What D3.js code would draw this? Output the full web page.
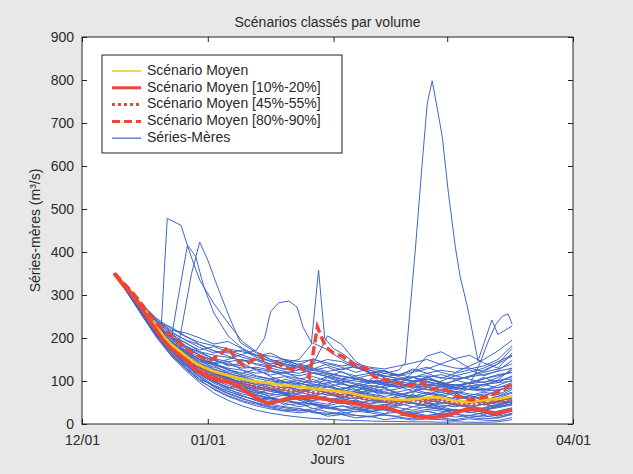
<!DOCTYPE html>
<html lang="fr">
  <head>
    <meta charset="UTF-8" />
    <title>Scénarios classés par volume</title>
    <script src="https://d3js.org/d3.v7.min.js"></script>
    <style>
      body {
        margin: 0;
        background: #e8e8e8;
      }
      svg {
        display: block;
        font-family: "Liberation Sans", Arial, sans-serif;
      }
      .axis text {
        font-size: 14px;
        fill: #2a2a2a;
      }
      .axis line {
        stroke: #222;
      }
      .axis .domain {
        display: none;
      }
      .blue {
        fill: none;
        stroke: #4066c6;
        stroke-width: 1;
      }
    </style>
  </head>
  <body>
    <svg width="633" height="474" id="chart"></svg>

    <script>
      // days counted from 12/01
      const gridDays = [8, 11.5, 15, 18.5, 22, 25.5, 29, 32.5, 36, 39.5, 43, 46.5, 50, 53.5, 57, 60.5, 64, 67.5, 71, 74.5, 78, 81.5, 85, 88.5, 92, 95.5, 99, 102.5, 106];

      // "Séries-Mères" read on gridDays
      const blueSeries = [
        [350, 314, 276, 245, 222, 203, 190, 182, 175, 168, 160, 158, 150, 145, 150, 142, 135, 140, 132, 128, 135, 142, 150, 138, 130, 128, 135, 150, 182],
        [350, 312, 272, 240, 215, 195, 178, 165, 172, 160, 150, 140, 146, 132, 140, 150, 145, 130, 125, 118, 112, 120, 128, 140, 152, 160, 142, 130, 165],
        [350, 310, 270, 236, 210, 188, 172, 180, 168, 155, 148, 135, 128, 140, 130, 122, 128, 135, 120, 110, 115, 108, 118, 125, 120, 135, 150, 170, 195],
        [350, 311, 268, 232, 205, 182, 165, 152, 145, 150, 138, 130, 122, 118, 125, 132, 120, 112, 118, 125, 110, 100, 108, 115, 105, 110, 125, 140, 158],
        [350, 309, 266, 230, 200, 178, 160, 148, 138, 130, 132, 125, 118, 112, 120, 115, 105, 110, 100, 95, 102, 110, 98, 92, 100, 112, 120, 128, 140],
        [350, 308, 264, 227, 196, 172, 155, 140, 130, 125, 118, 122, 112, 105, 110, 100, 96, 104, 98, 90, 85, 95, 105, 98, 88, 95, 105, 115, 120],
        [350, 308, 263, 225, 193, 168, 150, 140, 145, 125, 112, 105, 110, 100, 95, 102, 92, 88, 95, 100, 92, 84, 90, 96, 85, 80, 92, 100, 110],
        [350, 307, 262, 223, 190, 165, 146, 132, 122, 114, 106, 100, 96, 102, 92, 86, 94, 85, 80, 88, 95, 86, 80, 88, 92, 86, 78, 90, 102],
        [350, 306, 261, 221, 188, 162, 142, 128, 118, 108, 100, 95, 90, 84, 90, 96, 85, 78, 84, 76, 82, 90, 80, 74, 80, 88, 82, 76, 92],
        [350, 306, 260, 219, 185, 158, 138, 122, 112, 104, 96, 88, 84, 90, 82, 76, 82, 88, 76, 70, 75, 82, 72, 68, 76, 70, 66, 78, 88],
        [350, 305, 259, 217, 182, 155, 134, 118, 106, 98, 92, 84, 78, 74, 80, 72, 68, 75, 70, 64, 70, 62, 68, 74, 66, 60, 70, 64, 80],
        [350, 305, 258, 215, 180, 152, 130, 114, 102, 94, 86, 80, 74, 70, 85, 108, 96, 80, 66, 58, 62, 68, 60, 55, 62, 58, 52, 60, 72],
        [350, 304, 257, 214, 178, 150, 127, 110, 98, 90, 82, 76, 70, 64, 68, 60, 56, 62, 54, 58, 52, 56, 62, 50, 48, 55, 50, 46, 58],
        [350, 304, 256, 212, 176, 147, 124, 106, 94, 85, 78, 70, 66, 60, 55, 58, 52, 48, 54, 50, 44, 70, 110, 96, 72, 58, 44, 52, 50],
        [350, 303, 256, 211, 174, 145, 121, 102, 90, 80, 72, 66, 72, 55, 60, 54, 48, 54, 40, 46, 42, 50, 44, 40, 46, 42, 46, 40, 48],
        [350, 303, 255, 210, 172, 142, 118, 98, 85, 76, 68, 60, 55, 50, 46, 42, 70, 92, 80, 62, 48, 40, 38, 34, 30, 36, 32, 38, 44],
        [350, 302, 254, 208, 170, 140, 115, 95, 80, 70, 62, 55, 58, 45, 48, 38, 42, 38, 32, 36, 32, 28, 34, 30, 26, 32, 30, 28, 36],
        [350, 302, 253, 207, 168, 137, 112, 90, 76, 65, 56, 60, 44, 48, 36, 40, 30, 34, 30, 24, 28, 26, 20, 24, 22, 20, 16, 22, 30],
        [350, 301, 252, 205, 165, 134, 108, 86, 70, 58, 50, 42, 38, 32, 28, 25, 22, 20, 18, 22, 45, 68, 52, 36, 24, 15, 12, 14, 22],
        [350, 301, 251, 203, 162, 130, 103, 80, 64, 52, 42, 35, 30, 26, 30, 18, 22, 14, 18, 10, 14, 9, 12, 10, 8, 12, 9, 8, 15],
        [350, 300, 250, 200, 158, 125, 96, 72, 55, 42, 32, 25, 20, 16, 13, 11, 9, 8, 7, 6, 6, 5, 5, 4, 5, 4, 4, 5, 10],
        [350, 306, 262, 222, 192, 170, 150, 128, 105, 88, 75, 70, 82, 96, 85, 72, 60, 52, 48, 56, 66, 58, 50, 44, 40, 48, 56, 64, 74],
        [350, 304, 258, 216, 184, 160, 140, 125, 118, 110, 96, 82, 70, 60, 52, 46, 60, 78, 90, 84, 72, 64, 56, 50, 45, 40, 36, 44, 52],
        [350, 303, 255, 210, 172, 146, 130, 120, 108, 92, 80, 92, 104, 96, 86, 80, 74, 66, 58, 52, 48, 56, 68, 80, 74, 66, 58, 52, 62],
        [350, 302, 252, 206, 168, 138, 116, 98, 86, 74, 66, 58, 52, 48, 55, 66, 80, 74, 64, 60, 54, 48, 42, 36, 32, 30, 38, 46, 55],
        [350, 305, 260, 220, 186, 162, 146, 138, 128, 112, 100, 94, 88, 80, 72, 68, 62, 70, 78, 72, 66, 74, 84, 100, 112, 104, 96, 108, 125],
        [350, 309, 265, 228, 198, 176, 160, 148, 140, 135, 128, 122, 118, 126, 140, 205, 185, 145, 125, 112, 105, 98, 104, 96, 90, 96, 105, 112, 120],
        [350, 307, 262, 224, 192, 168, 150, 138, 126, 118, 110, 104, 98, 94, 90, 96, 102, 95, 88, 84, 92, 120, 158, 168, 150, 130, 122, 140, 176],
        [350, 302, 254, 209, 170, 138, 110, 88, 72, 60, 48, 40, 34, 30, 36, 28, 24, 30, 26, 20, 18, 24, 30, 22, 16, 20, 26, 18, 25],
        [350, 303, 256, 212, 175, 144, 120, 100, 82, 66, 54, 46, 40, 36, 30, 40, 34, 28, 38, 32, 28, 22, 18, 26, 34, 28, 22, 30, 38],
        [350, 313, 274, 242, 218, 212, 200, 186, 192, 175, 158, 165, 148, 138, 152, 136, 126, 134, 118, 124, 112, 128, 118, 106, 118, 126, 112, 124, 148],
        [350, 311, 270, 238, 225, 205, 185, 170, 158, 146, 152, 138, 126, 134, 118, 110, 122, 106, 114, 102, 96, 108, 100, 90, 102, 94, 108, 96, 112],
        [350, 309, 264, 226, 200, 190, 168, 152, 135, 142, 124, 114, 120, 106, 98, 110, 100, 92, 102, 94, 86, 98, 110, 92, 84, 96, 88, 102, 130],
        [350, 307, 262, 225, 210, 182, 160, 142, 126, 118, 128, 110, 98, 92, 104, 88, 80, 92, 84, 96, 88, 76, 86, 78, 70, 82, 92, 84, 96],
        [350, 306, 259, 218, 186, 170, 150, 136, 118, 100, 92, 104, 88, 78, 84, 92, 78, 68, 74, 82, 70, 64, 74, 66, 58, 66, 74, 68, 84],
        [350, 305, 258, 218, 190, 164, 132, 115, 108, 96, 84, 76, 88, 74, 66, 74, 64, 58, 68, 60, 54, 62, 56, 48, 56, 64, 56, 50, 66],
        [350, 304, 255, 212, 178, 150, 122, 112, 96, 84, 72, 80, 68, 58, 64, 54, 48, 56, 46, 52, 58, 48, 42, 50, 44, 38, 46, 54, 60],
        [350, 303, 252, 208, 172, 140, 118, 100, 84, 90, 76, 62, 54, 60, 48, 42, 50, 40, 36, 44, 38, 32, 40, 34, 30, 38, 32, 42, 52],
        [350, 302, 250, 204, 164, 132, 104, 90, 76, 64, 56, 62, 48, 40, 46, 36, 32, 38, 28, 34, 28, 24, 30, 22, 28, 34, 26, 20, 32],
        [350, 301, 249, 200, 160, 128, 100, 82, 66, 54, 46, 38, 30, 36, 26, 22, 28, 20, 16, 22, 16, 12, 18, 14, 10, 16, 20, 14, 24],
        [350, 312, 271, 239, 212, 196, 184, 170, 165, 172, 155, 146, 150, 136, 128, 140, 132, 120, 130, 122, 115, 124, 132, 120, 112, 120, 130, 145, 160],
        [350, 304, 256, 214, 184, 158, 142, 122, 100, 80, 68, 60, 68, 56, 44, 36, 42, 34, 28, 36, 30, 40, 48, 40, 32, 26, 34, 40, 46]
      ];

      // series with floods, read on their own days
      const peakSeries = [
        {
          days: [8, 11.5, 15, 18.5, 19.5, 21, 24.4, 26.5, 29, 32.5, 36, 39.5, 43, 46.5, 50, 57, 64, 71, 78, 85, 92, 99, 106],
          values: [350, 312, 270, 232, 222, 478, 462, 400, 335, 280, 235, 192, 168, 150, 140, 126, 112, 100, 94, 86, 82, 80, 90]
        },
        {
          days: [8, 11.5, 15, 18.5, 22, 24, 26, 28, 30, 32.5, 36, 39.5, 43, 46.5, 50, 57, 64, 71, 78, 85, 92, 99, 106],
          values: [350, 310, 266, 228, 200, 310, 416, 390, 320, 258, 205, 176, 160, 146, 135, 118, 104, 96, 88, 92, 84, 76, 84]
        },
        {
          days: [8, 11.5, 15, 18.5, 22, 24, 27, 29, 31, 33.4, 36.6, 39, 43, 46.5, 50, 57, 64, 71, 78, 85, 92, 99, 106],
          values: [350, 309, 265, 226, 200, 195, 350, 423, 381, 319, 242, 190, 165, 150, 138, 125, 110, 100, 104, 96, 90, 98, 105]
        },
        {
          days: [8, 11.5, 15, 18.5, 22, 25.5, 29, 32.5, 36, 39.5, 43, 45, 46.5, 48.5, 51, 53, 54.5, 56.5, 60, 64, 67.5, 71, 78, 85, 92, 99, 106],
          values: [350, 307, 263, 222, 190, 166, 150, 142, 150, 162, 172, 200, 262, 282, 286, 272, 225, 190, 175, 150, 132, 118, 106, 112, 104, 115, 130]
        },
        {
          days: [8, 11.5, 15, 18.5, 22, 25.5, 29, 32.5, 36, 39.5, 43, 46.5, 50, 53.5, 56.5, 58.3, 59.8, 62, 64, 67.5, 71, 74.5, 78, 85, 92, 99, 106],
          values: [350, 309, 267, 230, 200, 180, 168, 160, 155, 148, 140, 135, 142, 150, 185, 358, 200, 175, 165, 140, 120, 108, 98, 90, 85, 92, 100]
        },
        {
          days: [8, 11.5, 15, 18.5, 22, 25.5, 29, 32.5, 36, 39.5, 43, 46.5, 50, 53.5, 57, 60.5, 64, 67.5, 71, 74.5, 78, 79.7, 82.2, 83.9, 85.1, 86.3, 87.5, 88.8, 90.3, 92, 93.2, 95, 97.6, 101, 102.5, 106],
          values: [350, 306, 260, 218, 182, 156, 134, 118, 104, 95, 88, 80, 72, 68, 60, 55, 62, 70, 104, 118, 125, 142, 412, 614, 747, 798, 737, 667, 537, 412, 342, 272, 147, 242, 208, 228]
        },
        {
          days: [8, 11.5, 15, 18.5, 22, 25.5, 29, 32.5, 36, 39.5, 43, 46.5, 50, 53.5, 57, 60.5, 64, 67.5, 71, 74.5, 78, 81.5, 85, 88.5, 92, 95.5, 98, 100, 102, 103.5, 105, 106],
          values: [350, 305, 259, 218, 184, 157, 136, 120, 110, 102, 96, 90, 96, 88, 80, 86, 78, 72, 80, 74, 68, 76, 70, 64, 72, 90, 140, 190, 232, 250, 256, 232]
        }
      ];

      // scenario curves, every 2 days from day 8 to day 106
      const scenarioDays = d3.range(8, 107, 2);
      const meanScenario = [350, 330, 308, 285, 258, 232, 205, 185, 170, 155, 142, 132, 124, 118, 113, 108, 104, 100, 97, 95, 92, 90, 88, 86, 84, 81, 79, 77, 75, 73, 68, 64, 61, 59, 58, 56, 56, 58, 60, 62, 62, 58, 54, 52, 52, 55, 57, 58, 61, 64];
      const scenario10to20 = [350, 325, 305, 280, 250, 222, 195, 175, 160, 146, 125, 116, 106, 101, 98, 90, 78, 66, 55, 48, 52, 58, 60, 62, 63, 61, 58, 55, 52, 50, 46, 42, 40, 39, 36, 28, 22, 18, 16, 15, 17, 20, 26, 32, 36, 34, 28, 25, 28, 33];
      const scenario45to55 = [350, 327, 304, 280, 252, 225, 200, 180, 164, 150, 136, 124, 114, 108, 100, 96, 92, 88, 86, 82, 84, 80, 76, 78, 74, 72, 76, 70, 66, 68, 62, 58, 60, 54, 52, 48, 52, 56, 50, 54, 58, 52, 46, 44, 48, 50, 46, 52, 54, 56];
      const scenario80to90 = [350, 330, 310, 288, 262, 238, 218, 205, 188, 172, 162, 152, 150, 162, 178, 150, 135, 148, 160, 128, 142, 132, 126, 133, 108, 226, 180, 165, 158, 146, 132, 130, 110, 104, 100, 95, 88, 92, 96, 80, 84, 78, 66, 60, 56, 60, 64, 72, 80, 95];

      const yTicks = [0, 100, 200, 300, 400, 500, 600, 700, 800, 900];
      const legendLabels = [
        "Scénario Moyen",
        "Scénario Moyen [10%-20%]",
        "Scénario Moyen [45%-55%]",
        "Scénario Moyen [80%-90%]",
        "Séries-Mères"
      ];

      const svg = d3.select("#chart");
      const width = +svg.attr("width");
      const height = +svg.attr("height");
      const margins = { top: 37, right: 60, bottom: 50, left: 82 };
      const chartWidth = width - margins.left - margins.right;
      const chartHeight = height - margins.top - margins.bottom;

      const red = "#ef4536";
      const yellow = "#f4c41c";
      const blue = "#4066c6";

      const startDate = new Date(2006, 11, 1);
      const toDate = (d) => new Date(startDate.getTime() + d * 864e5);

      const xScale = d3
        .scaleTime()
        .domain([startDate, new Date(2007, 3, 1)])
        .range([0, chartWidth]);
      const yScale = d3.scaleLinear().domain([0, 900]).range([chartHeight, 0]);
      const monthTicks = d3.timeMonth.range(startDate, new Date(2007, 3, 2));

      const chartArea = svg
        .append("g")
        .attr("transform", `translate(${margins.left},${margins.top})`);

      chartArea
        .append("rect")
        .attr("width", chartWidth)
        .attr("height", chartHeight)
        .attr("fill", "#fff");

      // ticks point inward on all four sides, like matlab
      chartArea
        .append("g")
        .attr("class", "axis")
        .attr("transform", `translate(0,${chartHeight})`)
        .call(
          d3.axisBottom(xScale).tickValues(monthTicks).tickSize(-5).tickPadding(11).tickFormat(d3.timeFormat("%m/%d"))
        );
      chartArea
        .append("g")
        .attr("class", "axis")
        .call(d3.axisTop(xScale).tickValues(monthTicks).tickSize(-5).tickFormat(""));
      chartArea
        .append("g")
        .attr("class", "axis")
        .call(d3.axisLeft(yScale).tickValues(yTicks).tickSize(-5).tickPadding(8));
      chartArea
        .append("g")
        .attr("class", "axis")
        .attr("transform", `translate(${chartWidth},0)`)
        .call(d3.axisRight(yScale).tickValues(yTicks).tickSize(-5).tickFormat(""));

      const lineGen = d3
        .line()
        .x((p) => xScale(toDate(p[0])))
        .y((p) => yScale(p[1]));

      const blueLines = blueSeries
        .map((vals) => vals.map((v, i) => [gridDays[i], v]))
        .concat(peakSeries.map((s) => s.values.map((v, i) => [s.days[i], v])));

      chartArea
        .selectAll(".blue")
        .data(blueLines)
        .join("path")
        .attr("class", "blue")
        .attr("d", lineGen);

      // drawing order: dotted, mean, dashed, solid
      const scenarios = [
        { values: scenario45to55, color: red, width: 3.5, dash: "2.5,2.5" },
        { values: meanScenario, color: yellow, width: 2.8, dash: null },
        { values: scenario80to90, color: red, width: 3.5, dash: "9,4" },
        { values: scenario10to20, color: red, width: 3.8, dash: null }
      ];

      scenarios.forEach((s) => {
        chartArea
          .append("path")
          .datum(s.values.map((v, i) => [scenarioDays[i], v]))
          .attr("fill", "none")
          .attr("stroke", s.color)
          .attr("stroke-width", s.width)
          .attr("stroke-dasharray", s.dash)
          .attr("d", lineGen);
      });

      // frame
      chartArea
        .append("rect")
        .attr("width", chartWidth)
        .attr("height", chartHeight)
        .attr("fill", "none")
        .attr("stroke", "#222");

      // legend
      const legendStyles = [
        { color: yellow, width: 1.5, dash: null },
        { color: red, width: 3, dash: null },
        { color: red, width: 3, dash: "3,3" },
        { color: red, width: 3, dash: "8,4" },
        { color: blue, width: 1.2, dash: null }
      ];
      const legend = svg.append("g").attr("transform", "translate(102,55)");
      legend
        .append("rect")
        .attr("width", 240)
        .attr("height", 98)
        .attr("fill", "#fff")
        .attr("stroke", "#222");
      legendLabels.forEach((label, i) => {
        const rowY = 16 + i * 16.8;
        legend
          .append("line")
          .attr("x1", 10)
          .attr("x2", 39)
          .attr("y1", rowY)
          .attr("y2", rowY)
          .attr("stroke", legendStyles[i].color)
          .attr("stroke-width", legendStyles[i].width)
          .attr("stroke-dasharray", legendStyles[i].dash);
        legend
          .append("text")
          .attr("x", 45)
          .attr("y", rowY)
          .attr("dominant-baseline", "middle")
          .attr("font-size", 14)
          .attr("fill", "#2a2a2a")
          .text(label);
      });

      svg
        .append("text")
        .attr("x", margins.left + chartWidth / 2)
        .attr("y", 27)
        .attr("text-anchor", "middle")
        .attr("font-size", 14)
        .attr("fill", "#2a2a2a")
        .text("Scénarios classés par volume");

      svg
        .append("text")
        .attr("x", margins.left + chartWidth / 2)
        .attr("y", 464)
        .attr("text-anchor", "middle")
        .attr("font-size", 14)
        .attr("fill", "#2a2a2a")
        .text("Jours");

      svg
        .append("text")
        .attr("transform", "rotate(-90)")
        .attr("x", -(margins.top + chartHeight / 2))
        .attr("y", 40)
        .attr("text-anchor", "middle")
        .attr("font-size", 14)
        .attr("fill", "#2a2a2a")
        .text("Séries-mères (m³/s)");
    </script>
  </body>
</html>
